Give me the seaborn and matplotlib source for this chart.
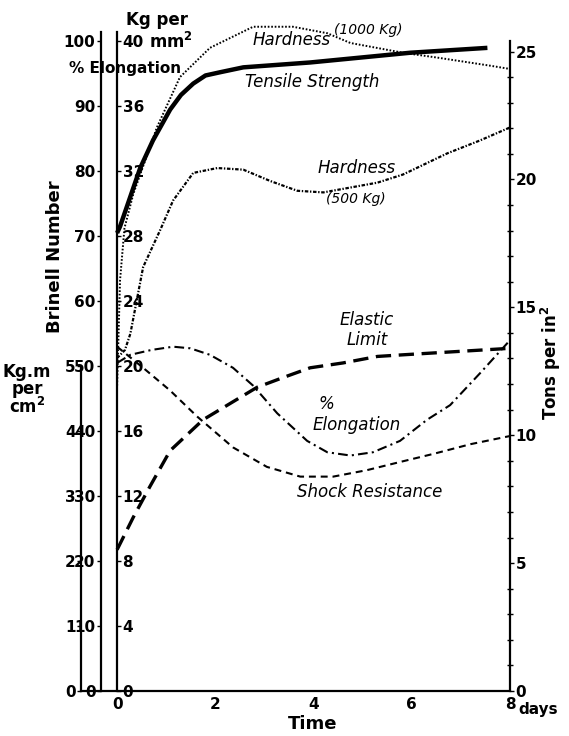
import numpy as np
import pandas as pd
import matplotlib
matplotlib.use("Agg")
import matplotlib.pyplot as plt
import seaborn as sns

# Curves (time in days, strength in Kg per mm2)
tensile_days = [0, 0.06, 0.47, 0.73, 1.08, 1.3, 1.55, 1.8, 2.1, 2.57, 3.93, 5.97, 7.54]
tensile_kg = [28.2, 28.6, 32.2, 33.9, 35.8, 36.7, 37.4, 37.9, 38.1, 38.4, 38.7, 39.3, 39.6]

hard1000_days = [0, 0.03, 0.06, 0.15, 0.33, 0.81, 1.28, 1.89, 2.77, 3.58, 4.28, 4.75, 5.82, 6.52, 7.6, 8.0]
hard1000_kg = [18.8, 22.0, 25.3, 28.5, 30.6, 34.7, 37.8, 39.6, 40.9, 40.9, 40.5, 39.9, 39.3, 39.0, 38.5, 38.3]

hard500_days = [0, 0.16, 0.27, 0.53, 0.88, 1.14, 1.55, 2.04, 2.57, 3.12, 3.67, 4.2, 4.75, 5.3, 5.82, 6.72, 7.39, 8.0]
hard500_kg = [20.5, 21.0, 22.0, 26.1, 28.4, 30.2, 31.9, 32.2, 32.1, 31.4, 30.8, 30.7, 31.0, 31.3, 31.8, 33.1, 33.9, 34.7]

elong_days = [0, 0.27, 0.7, 1.14, 1.49, 1.89, 2.36, 2.77, 3.26, 3.87, 4.28, 4.75, 5.21, 5.76, 6.31, 6.78, 7.4, 8.0]
elong_kg = [20.2, 20.7, 21.0, 21.2, 21.1, 20.7, 19.9, 18.8, 17.1, 15.4, 14.7, 14.5, 14.7, 15.4, 16.7, 17.6, 19.6, 21.6]

shock_days = [0, 0.53, 1.08, 1.63, 2.36, 3.05, 3.73, 4.4, 5.09, 5.76, 6.44, 7.2, 8.0]
shock_kg = [21.2, 19.9, 18.5, 16.9, 15.0, 13.8, 13.2, 13.2, 13.6, 14.1, 14.6, 15.2, 15.7]

elastic_days = [0, 0.33, 0.67, 1.08, 1.75, 2.3, 2.85, 3.38, 3.93, 4.6, 5.3, 5.82, 8.0]
elastic_kg = [8.7, 10.7, 12.6, 14.8, 16.7, 17.7, 18.7, 19.3, 19.9, 20.2, 20.6, 20.7, 21.1]

# Scales
time_ticks = [0, 2, 4, 6, 8]
kg_ticks = [0, 4, 8, 12, 16, 20, 24, 28, 32, 36, 40]
brinell_ticks = [0, 10, 20, 30, 40, 50, 60, 70, 80, 90, 100]
kgm_ticks = [0, 1, 2, 3, 4, 5]
tons_ticks = [0, 5, 10, 15, 20, 25]

sns.set_theme(style="white")
plt.rcParams['font.family'] = ['DejaVu Sans']
plt.rcParams['lines.scale_dashes'] = False
plt.rcParams['text.color'] = 'black'
plt.rcParams['axes.labelcolor'] = 'black'
plt.rcParams['xtick.color'] = 'black'
plt.rcParams['ytick.color'] = 'black'

W, H = 569, 736
fig = plt.figure(figsize=(W / 100, H / 100), dpi=100)

# main axes: x spans from the Kg.m axis (px 81) to day 8 (px 510)
ax = fig.add_axes([81 / W, 45 / H, 429 / W, 674 / H])
ax.set_xlim(-0.735, 8)
ax.set_ylim(0, 41.5)

line = dict(ax=ax, color='black', legend=False)
sns.lineplot(x=tensile_days, y=tensile_kg, linewidth=3.2, solid_capstyle='butt', **line)
sns.lineplot(x=hard1000_days, y=hard1000_kg, linewidth=1.4, linestyle=(0, (1.2, 1.3)), **line)
sns.lineplot(x=hard500_days, y=hard500_kg, linewidth=1.6, linestyle=(0, (2.5, 1.2, 1, 1.2)), **line)
sns.lineplot(x=elong_days, y=elong_kg, linewidth=1.5, linestyle=(0, (7, 3, 1.5, 3)), **line)
sns.lineplot(x=shock_days, y=shock_kg, linewidth=1.5, linestyle=(0, (5, 3.5)), **line)
sns.lineplot(x=elastic_days, y=elastic_kg, linewidth=2.4, linestyle=(0, (11, 5.5)), **line)

for s in ['top', 'right', 'left']:
    ax.spines[s].set_visible(False)
ax.spines['bottom'].set_color('black')
ax.spines['bottom'].set_linewidth(1.6)
ax.set_yticks([])
ax.set_xticks(time_ticks)
ax.set_xticklabels([str(t) for t in time_ticks], fontsize=11, fontweight='bold')
ax.tick_params(axis='x', direction='in', length=3, width=1, color='black', pad=4)
ax.set_xlabel('Time', fontsize=13, fontweight='bold', labelpad=0)
ax.xaxis.set_label_coords((313 - 81) / 429, -0.035)
ax.annotate('days', xy=(8, 0), xytext=(6, -13), textcoords='offset points',
            fontsize=11, fontweight='bold', va='center', ha='left')

tick_font = dict(fontsize=11, fontweight='bold')


def style_axis(sec, ticks, lo, hi, side):
    sec.set_alignment(side)
    sec.set_yticks(ticks)
    sec.set_yticklabels([str(t) for t in ticks], **tick_font)
    sec.spines[side].set_bounds(lo, hi)
    sec.spines[side].set_color('black')
    sec.spines[side].set_linewidth(1.6)
    sec.tick_params(axis='y', direction='out', length=3, width=1, color='black', pad=1)


# Kg.m per cm2 (1 unit = 4 Kg/mm2 on the drawing)
kgm = ax.secondary_yaxis(0.0, functions=(lambda k: k / 4, lambda m: m * 4))
style_axis(kgm, kgm_ticks, 0, 5, 'left')

# Brinell number (2.5 x Kg/mm2)
brin = ax.secondary_yaxis(20 / 429, functions=(lambda k: k * 2.5, lambda b: b / 2.5))
style_axis(brin, brinell_ticks, 0, 101.5, 'left')

# Kg per mm2
kg = ax.secondary_yaxis(36 / 429, functions=(lambda k: k, lambda k: k))
style_axis(kg, kg_ticks, 0, 40.6, 'right')

# Tons per in2
tons = ax.secondary_yaxis('right', functions=(lambda k: k / 1.575, lambda t: t * 1.575))
style_axis(tons, tons_ticks, 0, 25.4, 'right')
tons.set_yticks(range(0, 26), minor=True)
tons.tick_params(axis='y', which='minor', direction='inout', length=4, width=1, color='black')


def ftext(px, py, s, **kw):
    fig.text(px / W, 1 - py / H, s, ha='center', va='center', **kw)


ftext(157, 20, 'Kg per', fontsize=12, fontweight='bold')
ftext(171, 42, 'mm$^{\\mathbf{2}}$', fontsize=12, fontweight='bold')
ftext(125, 68, '% Elongation', fontsize=11, fontweight='bold')
ftext(55, 257, 'Brinell Number', fontsize=13, fontweight='bold', rotation=90)
ftext(27, 390, 'Kg.m\nper\ncm$^{\\mathbf{2}}$', fontsize=12, fontweight='bold', linespacing=0.95)
ftext(551, 363, 'Tons per in$^{\\mathbf{2}}$', fontsize=12, fontweight='bold', rotation=90)

curve_font = dict(fontsize=12, style='italic', color='black')
ftext(292, 40, 'Hardness', **curve_font)
ftext(368, 30, '(1000 Kg)', fontsize=10, style='italic')
ftext(312, 82, 'Tensile Strength', **curve_font)
ftext(357, 168, 'Hardness', **curve_font)
ftext(356, 199, '(500 Kg)', fontsize=10, style='italic')
ftext(367, 320, 'Elastic', **curve_font)
ftext(367, 340, 'Limit', **curve_font)
ftext(326, 404, '%', **curve_font)
ftext(357, 425, 'Elongation', **curve_font)
ftext(370, 492, 'Shock Resistance', **curve_font)

fig.savefig('out.png', dpi=100)
